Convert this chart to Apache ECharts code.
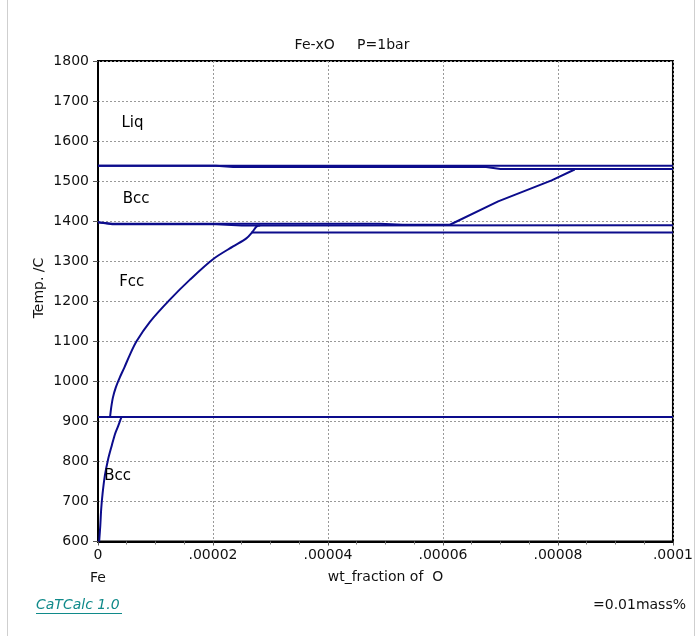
<!DOCTYPE html>
<html>
<head>
<meta charset="utf-8">
<script src="https://cdn.jsdelivr.net/npm/echarts@6/dist/echarts.min.js"></script>
<style>
  html, body { margin: 0; padding: 0; background: #fff; }
  #holder { width: 696px; height: 636px; }
</style>
</head>
<body>
<div id="holder"></div>
<script>
// tick labels of the x axis (wt fraction of O)
var xTickLabels = ['0', '.00002', '.00004', '.00006', '.00008', '.0001']

// phase boundaries, [wt fraction O, temp C]
var liquidus = [[0, 1538.5], [0.0001, 1538.5]]
var solidus = [[0, 1538.5], [0.0000205, 1538.5], [0.0000235, 1535], [0.0000675, 1535], [0.00007, 1530], [0.0001, 1530]]
var deltaUpper = [[0, 1397], [0.0000025, 1393.5], [0.000049, 1393.5], [0.000053, 1391], [0.0000612, 1391],
  [0.0000696, 1449.5], [0.0000789, 1502], [0.0000829, 1529]]
var deltaLower = [[0, 1397], [0.0000025, 1392.5], [0.0000205, 1392.5], [0.000025, 1389], [0.0001, 1390]]
var line1372 = [[0.0000267, 1372], [0.0001, 1372]]
var line911 = [[0, 911], [0.0001, 911]]
var fccSolvus = [[0.0000021, 911], [0.0000023, 935], [0.0000026, 960], [0.0000031, 985], [0.0000038, 1010],
  [0.0000046, 1035], [0.0000055, 1065], [0.0000067, 1100], [0.000009, 1148], [0.0000125, 1204],
  [0.000016, 1254], [0.00002, 1305], [0.0000235, 1337], [0.0000258, 1357], [0.0000269, 1374],
  [0.0000276, 1387], [0.0000282, 1389]]
var bccSolvus = [[0.0000002, 600], [0.0000004, 640], [0.00000055, 680], [0.0000008, 720], [0.0000012, 765],
  [0.00000175, 805], [0.0000024, 840], [0.00000295, 868], [0.0000035, 888], [0.0000038, 900], [0.0000041, 911]]

// phase names and where they sit
var phaseNames = ['Liq', 'Bcc', 'Fcc', 'Bcc']
var phasePos = [[0.0000040, 1644], [0.0000042, 1454], [0.0000036, 1249], [0.0000010, 764]]

var lineColor = '#0c0c8c'
var font = 'DejaVu Sans'

function boundary(data, smooth) {
  return {
    type: 'line',
    data: data,
    smooth: smooth || false,
    showSymbol: false,
    silent: true,
    lineStyle: { color: lineColor, width: 2 },
    z: 3
  }
}

var myChart = echarts.init(document.getElementById('holder'), null, { renderer: 'canvas' })

var series = [liquidus, solidus, deltaUpper, deltaLower, line1372, line911].map(d => boundary(d))
series.push(boundary(fccSolvus, 0.3))
series.push(boundary(bccSolvus, 0.3))

// phase names as labels on invisible points
series.push({
  type: 'scatter',
  symbolSize: 1,
  silent: true,
  itemStyle: { color: 'transparent', opacity: 1 },
  data: phasePos.map((p, i) => ({ value: p, name: phaseNames[i] })),
  label: {
    show: true,
    position: 'right',
    distance: 0,
    formatter: '{b}',
    color: '#000',
    opacity: 1,
    fontFamily: font,
    fontSize: 15
  },
  z: 4
})

var option = {
  animation: false,
  backgroundColor: '#fff',
  grid: {
    left: 98, right: 21, top: 61, bottom: 94.5,
    show: true, borderColor: '#000', borderWidth: 2
  },
  xAxis: {
    type: 'value',
    min: 0, max: 0.0001, interval: 0.00002,
    name: 'wt_fraction of  O',
    nameLocation: 'middle',
    nameGap: 29,
    nameTextStyle: { color: '#111', fontFamily: font, fontSize: 14 },
    axisLine: { show: true, lineStyle: { color: '#000', width: 2 } },
    axisTick: { show: true, length: 4, lineStyle: { color: '#555' } },
    minorTick: { show: true, splitNumber: 4, length: 3, lineStyle: { color: '#777' } },
    axisLabel: {
      margin: 7, color: '#111', fontFamily: font, fontSize: 14,
      formatter: v => xTickLabels[Math.round(v / 0.00002)]
    },
    splitLine: { show: true, lineStyle: { color: '#999', type: [2, 2], width: 1 } }
  },
  yAxis: {
    type: 'value',
    min: 600, max: 1800, interval: 100,
    axisLine: { show: true, lineStyle: { color: '#000', width: 2 } },
    axisTick: { show: true, length: 5, lineStyle: { color: '#555' } },
    axisLabel: { margin: 9, color: '#111', fontFamily: font, fontSize: 14, formatter: v => String(v) },
    splitLine: { show: true, lineStyle: { color: '#999', type: [2, 2], width: 1 } }
  },
  graphic: [
    { type: 'line', shape: { x1: 7.5, y1: 0, x2: 7.5, y2: 636 }, style: { stroke: '#cfcfcf', lineWidth: 1 } },
    { type: 'line', shape: { x1: 694.5, y1: 0, x2: 694.5, y2: 636 }, style: { stroke: '#cfcfcf', lineWidth: 1 } },
    { type: 'text', x: 352, y: 45, style: { text: 'Fe-xO     P=1bar', font: '14px ' + font, fill: '#111', textAlign: 'center', textVerticalAlign: 'middle' } },
    { type: 'text', x: 39, y: 288, rotation: Math.PI / 2, style: { text: 'Temp. /C', font: '14px ' + font, fill: '#111', textAlign: 'center', textVerticalAlign: 'middle' } },
    { type: 'text', x: 98, y: 578, style: { text: 'Fe', font: '14px ' + font, fill: '#111', textAlign: 'center', textVerticalAlign: 'middle' } },
    { type: 'text', x: 36, y: 605, style: { text: 'CaTCalc 1.0', font: 'italic 14px ' + font, fill: '#108a8a', textAlign: 'left', textVerticalAlign: 'middle' } },
    { type: 'line', shape: { x1: 36, y1: 613.5, x2: 122, y2: 613.5 }, style: { stroke: '#108a8a', lineWidth: 1 } },
    { type: 'text', x: 686, y: 605, style: { text: '=0.01mass%', font: '14px ' + font, fill: '#111', textAlign: 'right', textVerticalAlign: 'middle' } }
  ],
  series: series
}

myChart.setOption(option)
</script>
</body>
</html>
